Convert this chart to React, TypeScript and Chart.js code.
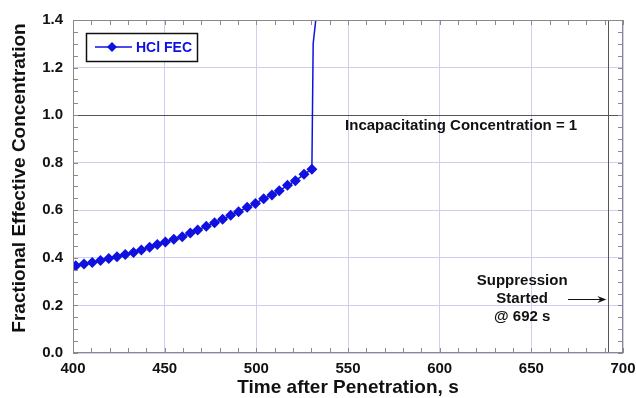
import React, { useEffect, useRef } from "react";
import { Chart, registerables } from "chart.js";

Chart.register(...registerables);

const timeSeconds = [
  401.5, 406, 410.5, 415, 419.5, 424, 428.5, 433, 437.3, 441.8,
  446, 450.4, 455, 459.6, 464, 468, 472.7, 477.2, 481.6, 486,
  490.3, 495, 499.5, 504, 508.5, 512.5, 517, 521.3, 526, 530.3,
  531.0, 532.7,
];
const hclFec = [
  0.367, 0.374, 0.381, 0.389, 0.397, 0.405, 0.414, 0.423, 0.433, 0.445,
  0.456, 0.467, 0.478, 0.489, 0.504, 0.517, 0.533, 0.548, 0.562, 0.579,
  0.594, 0.613, 0.629, 0.649, 0.664, 0.682, 0.705, 0.724, 0.751, 0.773,
  1.3, 1.42,
];
const markerCount = 30;
const seriesLabel = "HCl FEC";
const thresholdValue = 1;
const thresholdLabel = "Incapacitating Concentration = 1";
const suppressionTime = 692;
const suppressionLabel = ["Suppression", "Started", "@ 692 s"];
const xTitle = "Time after Penetration, s";
const yTitle = "Fractional Effective Concentration";

const FONT = "Arial, 'Liberation Sans', sans-serif";
const BLUE = "#1010e0";

const decorPlugin = {
  id: "decor",
  beforeDatasetsDraw(chart: any) {
    const { ctx, chartArea: a, scales } = chart;
    const xs = scales.x;
    const ys = scales.y;
    ctx.save();
    const yT = Math.round(ys.getPixelForValue(thresholdValue)) + 0.5;
    ctx.strokeStyle = "#555";
    ctx.lineWidth = 1;
    ctx.beginPath();
    ctx.moveTo(a.left, yT);
    ctx.lineTo(a.right, yT);
    ctx.stroke();
    const xS = Math.round(xs.getPixelForValue(suppressionTime)) + 0.5;
    ctx.beginPath();
    ctx.moveTo(xS, a.top);
    ctx.lineTo(xS, a.bottom);
    ctx.stroke();
    ctx.restore();
  },
  afterDatasetsDraw(chart: any) {
    const { ctx, chartArea: a, scales } = chart;
    const xs = scales.x;
    const ys = scales.y;
    ctx.save();
    ctx.strokeStyle = "#8a8a8a";
    ctx.lineWidth = 1;
    ctx.strokeRect(a.left + 0.5, a.top + 0.5, a.right - a.left - 1, a.bottom - a.top - 1);
    ctx.beginPath();
    for (let v = 400; v <= 700; v += 10) {
      const x = Math.round(xs.getPixelForValue(v)) + 0.5;
      ctx.moveTo(x, a.bottom);
      ctx.lineTo(x, a.bottom - 5);
      ctx.moveTo(x, a.top);
      ctx.lineTo(x, a.top + 5);
    }
    for (let i = 0; i <= 28; i++) {
      const y = Math.round(ys.getPixelForValue(i * 0.05)) + 0.5;
      ctx.moveTo(a.left, y);
      ctx.lineTo(a.left + 5, y);
      ctx.moveTo(a.right, y);
      ctx.lineTo(a.right - 5, y);
    }
    ctx.stroke();

    ctx.fillStyle = "#111";
    ctx.textAlign = "center";
    ctx.textBaseline = "middle";

    // axis titles
    ctx.font = `bold 19px ${FONT}`;
    ctx.fillText(xTitle, (a.left + a.right) / 2, 388);
    ctx.save();
    ctx.translate(20, 178);
    ctx.rotate(-Math.PI / 2);
    ctx.fillText(yTitle, 0, 0);
    ctx.restore();

    // threshold label
    ctx.font = `bold 15px ${FONT}`;
    ctx.fillText(thresholdLabel, xs.getPixelForValue(611.7), ys.getPixelForValue(0.955));

    // suppression label
    const cx = xs.getPixelForValue(645);
    const cy = ys.getPixelForValue(0.227);
    suppressionLabel.forEach((t, i) => {
      ctx.fillText(t, cx, cy + (i - 1) * 18);
    });
    const ay = Math.round(cy) + 0.5;
    const ax0 = xs.getPixelForValue(670);
    const ax1 = xs.getPixelForValue(suppressionTime) - 2;
    ctx.strokeStyle = "#111";
    ctx.lineWidth = 1;
    ctx.beginPath();
    ctx.moveTo(ax0, ay);
    ctx.lineTo(ax1 - 4, ay);
    ctx.stroke();
    ctx.beginPath();
    ctx.moveTo(ax1, ay);
    ctx.lineTo(ax1 - 9, ay - 3.5);
    ctx.lineTo(ax1 - 6, ay);
    ctx.lineTo(ax1 - 9, ay + 3.5);
    ctx.closePath();
    ctx.fill();

    // legend box
    const lx = a.left + 13;
    const ly = a.top + 13;
    const lw = 111;
    const lh = 28;
    ctx.fillStyle = "#fff";
    ctx.fillRect(lx, ly, lw, lh);
    ctx.strokeStyle = "#111";
    ctx.lineWidth = 1.5;
    ctx.strokeRect(lx + 0.5, ly + 0.5, lw, lh);
    const my = ly + lh / 2;
    ctx.strokeStyle = BLUE;
    ctx.lineWidth = 1.5;
    ctx.beginPath();
    ctx.moveTo(lx + 9, my);
    ctx.lineTo(lx + 46, my);
    ctx.stroke();
    const dx = lx + 26;
    ctx.fillStyle = BLUE;
    ctx.beginPath();
    ctx.moveTo(dx, my - 5);
    ctx.lineTo(dx + 5, my);
    ctx.lineTo(dx, my + 5);
    ctx.lineTo(dx - 5, my);
    ctx.closePath();
    ctx.fill();
    ctx.font = `bold 14px ${FONT}`;
    ctx.textAlign = "left";
    ctx.fillText(seriesLabel, lx + 50, my + 1);
    ctx.restore();
  },
};

export default function App() {
  const ref = useRef<HTMLCanvasElement | null>(null);
  useEffect(() => {
    if (!ref.current) return;
    const data = timeSeconds.map((t, i) => ({ x: t, y: hclFec[i] }));
    const chart = new Chart(ref.current, {
      type: "scatter",
      data: {
        datasets: [
          {
            label: seriesLabel,
            data,
            showLine: true,
            borderColor: BLUE,
            backgroundColor: BLUE,
            borderWidth: 1.5,
            pointStyle: "rectRot",
            pointRadius: (c: any) => (c.dataIndex < markerCount ? 5.5 : 0),
            pointBorderWidth: 0,
          },
        ],
      },
      options: {
        animation: false,
        responsive: false,
        layout: { padding: { top: 20, right: 13, left: 0, bottom: 0 } },
        plugins: { legend: { display: false }, tooltip: { enabled: false } },
        scales: {
          x: {
            type: "linear",
            min: 400,
            max: 700,
            ticks: {
              stepSize: 50,
              color: "#111",
              padding: 7,
              font: { family: FONT, size: 15, weight: "bold" },
            },
            grid: { color: "#cfcff4", drawTicks: false },
            border: { display: false },
            title: { display: false },
            afterFit: (s: any) => {
              s.height = 45;
              s.paddingLeft = 0;
              s.paddingRight = 0;
            },
          },
          y: {
            type: "linear",
            min: 0,
            max: 1.4,
            ticks: {
              stepSize: 0.2,
              color: "#111",
              padding: 10,
              font: { family: FONT, size: 15, weight: "bold" },
              callback: (v: any) => Number(v).toFixed(1),
            },
            grid: { color: "#cfcff4", drawTicks: false },
            border: { display: false },
            title: { display: false },
            afterFit: (s: any) => {
              s.width = 73;
              s.paddingTop = 0;
              s.paddingBottom = 0;
            },
          },
        },
      },
      plugins: [decorPlugin],
    } as any);
    return () => chart.destroy();
  }, []);
  return (
    <div style={{ position: "fixed", left: 0, top: 0, width: 636, height: 398, background: "#fff" }}>
      <canvas ref={ref} width={636} height={398} style={{ width: 636, height: 398 }} />
    </div>
  );
}
